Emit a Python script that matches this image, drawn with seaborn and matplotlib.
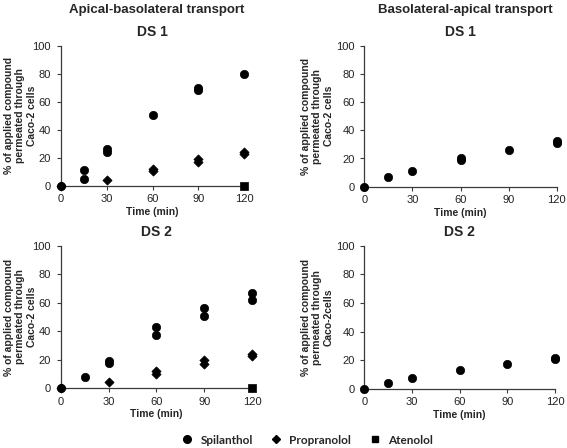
import pandas as pd
import matplotlib
matplotlib.use('Agg')
import matplotlib.pyplot as plt
import seaborn as sns
from matplotlib.lines import Line2D

sns.set_style('ticks')
plt.rcParams['font.family'] = ['Liberation Sans', 'DejaVu Sans']

# Dados (replicados)
# Apical-basolateral, DS 1
ab1_spi_t = [0, 15, 15, 30, 30, 60, 90, 90, 120]
ab1_spi_v = [0, 11, 4.5, 26, 23.8, 50.6, 69.5, 68.2, 80]
ab1_pro_t = [0, 30, 60, 60, 90, 90, 120, 120]
ab1_pro_v = [0, 4.3, 11.9, 10.2, 19.1, 16.9, 24, 22.9]
ab1_ate_t = [120]
ab1_ate_v = [0]

# Basolateral-apical, DS 1
ba1_spi_t = [0, 15, 30, 60, 60, 90, 120, 120]
ba1_spi_v = [0, 7, 11.3, 20.2, 18.7, 25.9, 32.6, 31]

# Apical-basolateral, DS 2
ab2_spi_t = [0, 15, 30, 30, 60, 60, 90, 90, 120, 120]
ab2_spi_v = [0, 7.9, 19.2, 18, 43, 37.4, 56.6, 50.8, 67, 61.6]
ab2_pro_t = [0, 30, 60, 60, 90, 90, 120, 120]
ab2_pro_v = [0, 4.2, 11.8, 10, 19.6, 17, 23.9, 22.9]
ab2_ate_t = [120]
ab2_ate_v = [0]

# Basolateral-apical, DS 2
ba2_spi_t = [0, 15, 30, 60, 90, 120, 120]
ba2_spi_v = [0, 4.3, 7.9, 13.6, 17.3, 21.9, 21]


def monta(spi_t, spi_v, pro_t=(), pro_v=(), ate_t=(), ate_v=()):
    partes = [
        pd.DataFrame({'Tempo': spi_t, 'Valor': spi_v, 'Composto': 'Spilanthol'}),
        pd.DataFrame({'Tempo': list(pro_t), 'Valor': list(pro_v), 'Composto': 'Propranolol'}),
        pd.DataFrame({'Tempo': list(ate_t), 'Valor': list(ate_v), 'Composto': 'Atenolol'}),
    ]
    return pd.concat([p for p in partes if len(p)], ignore_index=True)


paineis = [
    (monta(ab1_spi_t, ab1_spi_v, ab1_pro_t, ab1_pro_v, ab1_ate_t, ab1_ate_v),
     [60.7, 45.7, 244.3, 185.7], 'DS 1', 'Caco-2 cells'),
    (monta(ba1_spi_t, ba1_spi_v),
     [364.3, 45.7, 556.7, 186.7], 'DS 1', 'Caco-2 cells'),
    (monta(ab2_spi_t, ab2_spi_v, ab2_pro_t, ab2_pro_v, ab2_ate_t, ab2_ate_v),
     [60.7, 245.7, 252.0, 388.3], 'DS 2', 'Caco-2 cells'),
    (monta(ba2_spi_t, ba2_spi_v),
     [364.3, 245.7, 555.0, 389.0], 'DS 2', 'Caco-2cells'),
]

W, H = 567, 448
fig = plt.figure(figsize=(W / 100, H / 100), dpi=100)

marcadores = {'Spilanthol': 'o', 'Propranolol': 'D', 'Atenolol': 's'}
tamanhos = {'Spilanthol': 36, 'Propranolol': 22, 'Atenolol': 32}
cor_eixo = '#3a3a3a'

for df, (x0, y0, x1, y1), titulo, linha3 in paineis:
    ax = fig.add_axes([x0 / W, 1 - y1 / H, (x1 - x0) / W, (y1 - y0) / H])
    for comp, sub in df.groupby('Composto'):
        sns.scatterplot(data=sub, x='Tempo', y='Valor', marker=marcadores[comp],
                        s=tamanhos[comp], color='black', edgecolor='black',
                        linewidth=0.5, ax=ax, legend=False, clip_on=False, zorder=3)
    ax.set_xlim(0, 120)
    ax.set_ylim(0, 100)
    ax.set_xticks([0, 30, 60, 90, 120])
    ax.set_yticks([0, 20, 40, 60, 80, 100])
    sns.despine(ax=ax)
    for sp in ['left', 'bottom']:
        ax.spines[sp].set_color(cor_eixo)
        ax.spines[sp].set_linewidth(0.9)
    ax.tick_params(axis='both', labelsize=8, length=3, width=0.8,
                   color=cor_eixo, labelcolor='#222222', pad=4)
    ax.tick_params(axis='x', pad=3)
    ax.set_title(titulo, fontsize=10, fontweight='bold', pad=7)
    ax.set_xlabel('Time (min)', fontsize=7.5, fontweight='bold', labelpad=2)
    ax.set_ylabel('% of applied compound\npermeated through\n' + linha3,
                  fontsize=7.5, fontweight='bold')
    larg = x1 - x0
    borda = 37 if x0 < 200 else 334
    ax.yaxis.set_label_coords((borda - x0) / larg, 0.5)

fig.text(157 / W, 1 - 10 / H, 'Apical-basolateral transport', ha='center',
         va='center', fontsize=9.5, fontweight='bold')
fig.text(465 / W, 1 - 10 / H, 'Basolateral-apical transport', ha='center',
         va='center', fontsize=9.5, fontweight='bold')

alcas = [Line2D([], [], linestyle='none', marker=marcadores[c], color='black',
                markersize=ms, label=c)
         for c, ms in [('Spilanthol', 5.5), ('Propranolol', 4.0), ('Atenolol', 5.0)]]
fig.legend(handles=alcas, loc='center', bbox_to_anchor=(307 / W, 1 - 440 / H),
           ncol=3, frameon=False, handlelength=1.0, handletextpad=0.6,
           columnspacing=1.5, prop={'family': 'Lato', 'weight': 'bold', 'size': 8.5})

fig.savefig('out.png', dpi=100)
